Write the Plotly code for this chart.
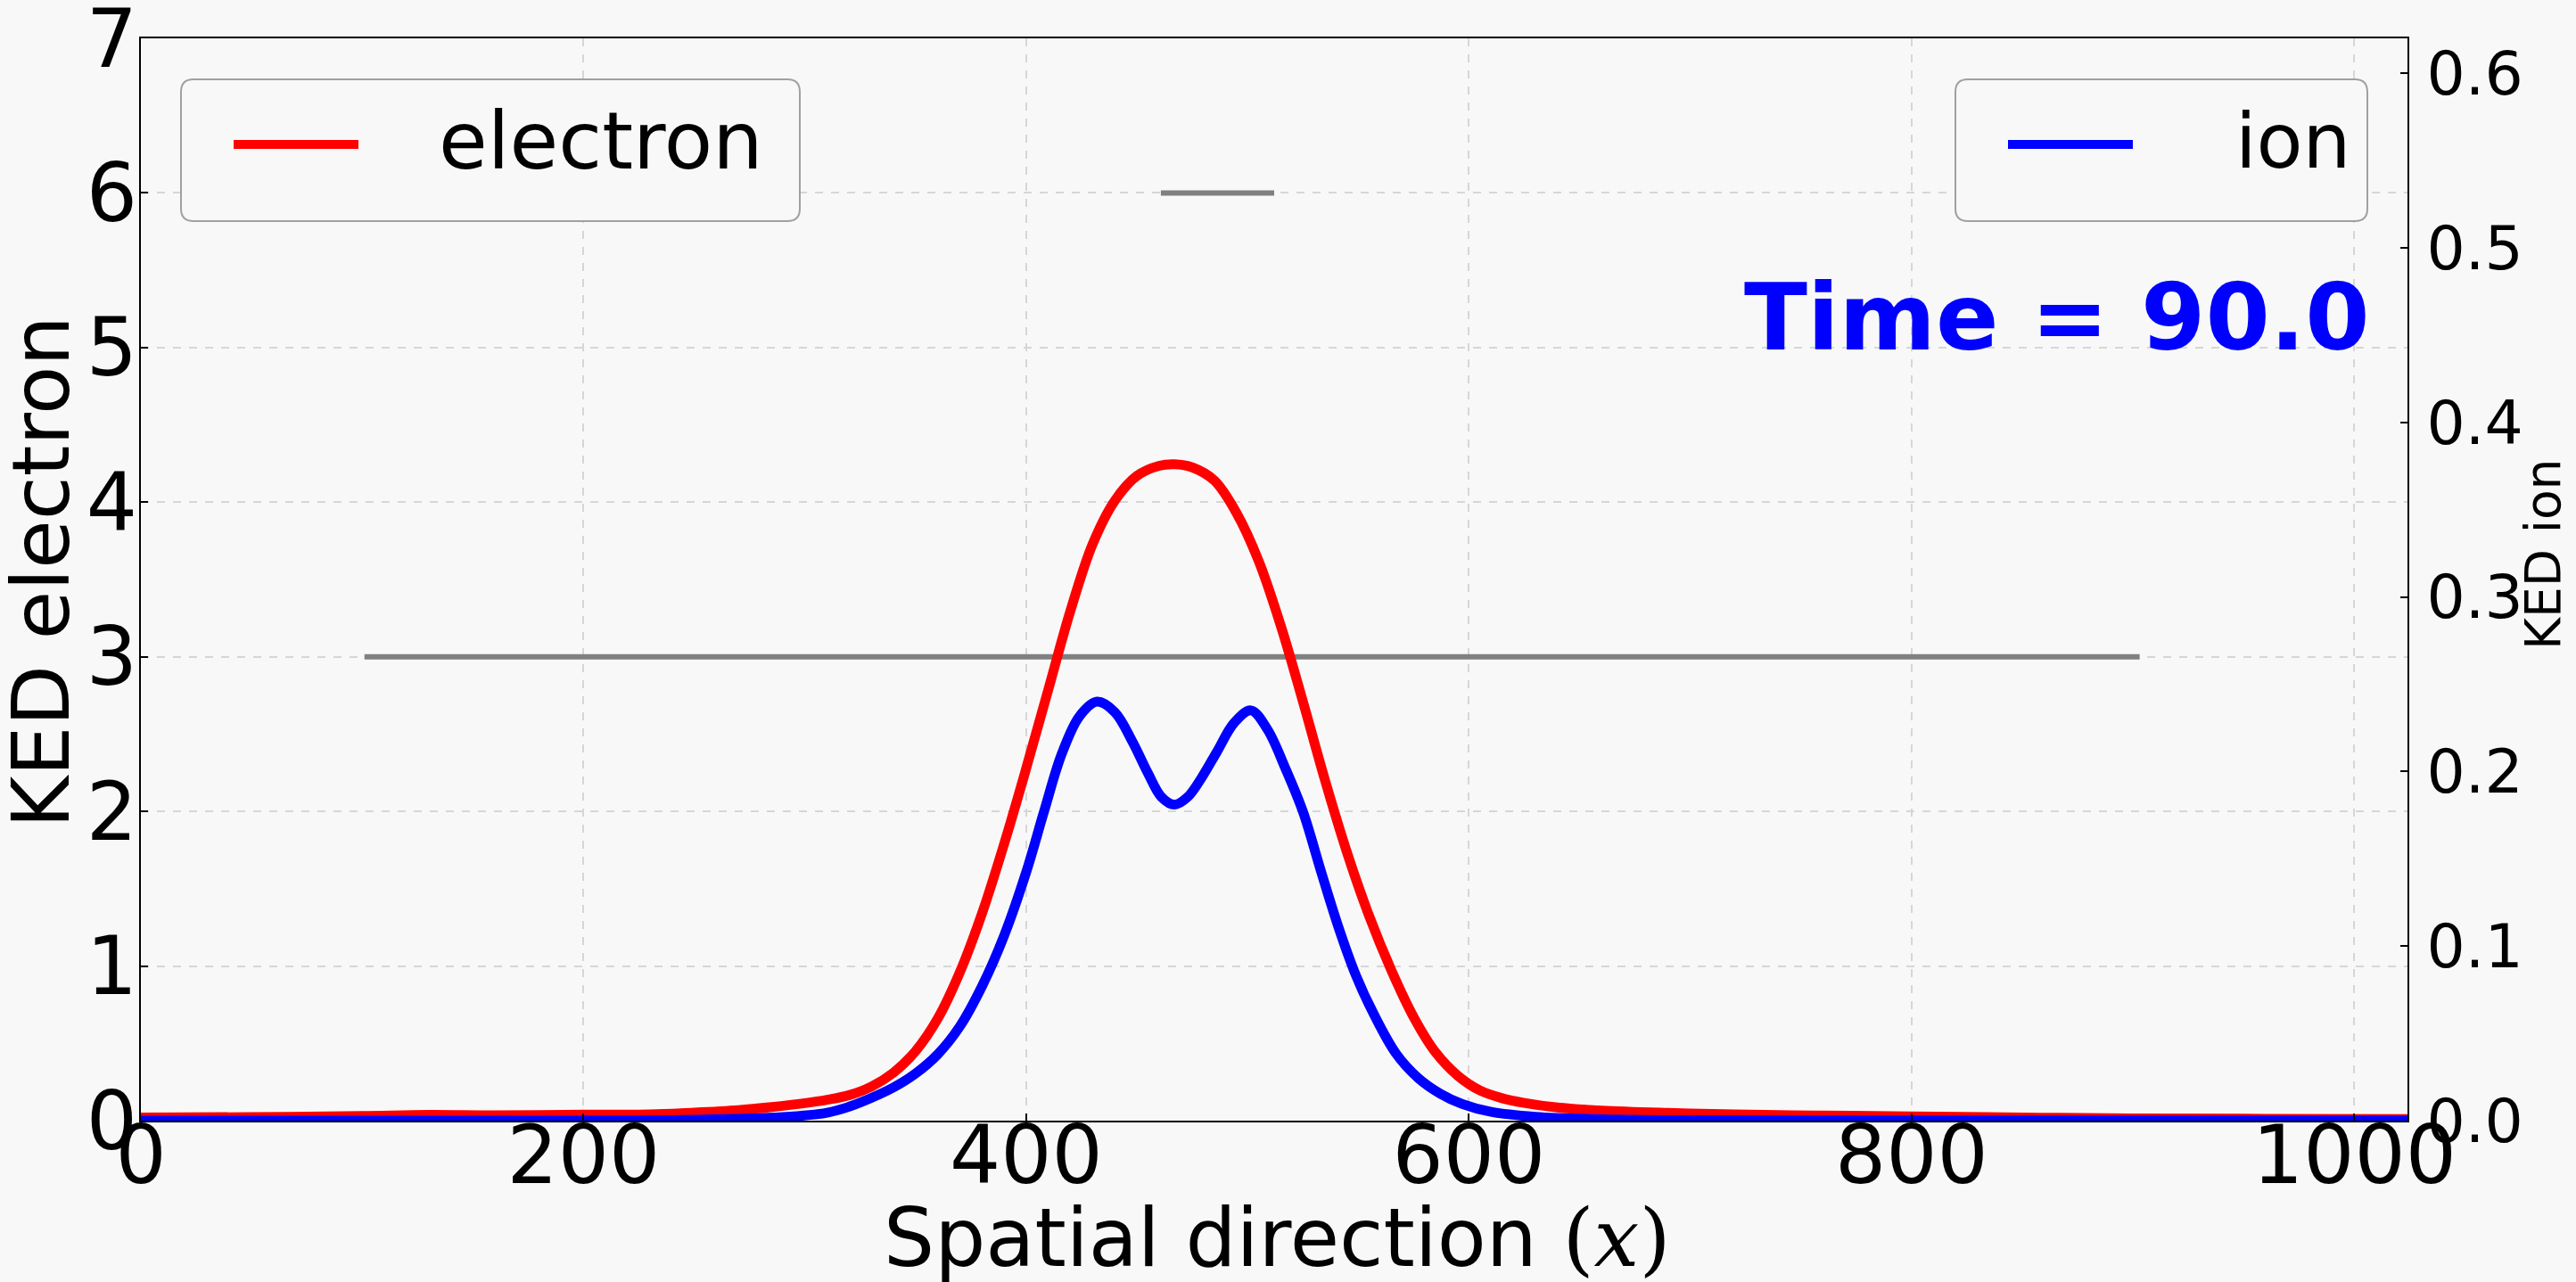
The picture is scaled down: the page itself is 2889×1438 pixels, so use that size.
import plotly.graph_objects as go

# ---------------- data ----------------
x_electron = [0, 50, 100, 130, 160, 200, 230, 250, 270, 285, 300, 310, 320, 330, 340,
              350, 360, 370, 380, 390, 400, 410, 420, 430, 440, 450, 460, 467, 475, 485,
              495, 505, 515, 525, 535, 545, 555, 565, 575, 585, 595, 605, 615, 625, 640,
              660, 690, 720, 760, 800, 850, 900, 960, 1024]
ke_electron = [0.02, 0.023, 0.03, 0.037, 0.034, 0.039, 0.041, 0.052, 0.068, 0.088, 0.113,
               0.135, 0.165, 0.22, 0.31, 0.45, 0.66, 0.96, 1.34, 1.79, 2.28, 2.79, 3.30,
               3.73, 4.01, 4.17, 4.235, 4.245, 4.225, 4.14, 3.93, 3.62, 3.20, 2.71, 2.20,
               1.73, 1.32, 0.97, 0.67, 0.44, 0.29, 0.195, 0.145, 0.115, 0.085, 0.065, 0.05,
               0.04, 0.033, 0.028, 0.02, 0.015, 0.012, 0.01]

x_ion = [0, 150, 250, 290, 310, 320, 330, 340, 350, 360, 370, 380, 390, 400, 408, 416,
         424, 432, 440, 448, 455, 461, 467, 473, 479, 486, 494, 501.5, 509, 517, 525, 533,
         541, 549, 557, 567, 577, 587, 597, 610, 630, 660, 720, 1024]
ke_ion = [0.0, 0.0, 0.0005, 0.002, 0.0045, 0.008, 0.013, 0.019, 0.027, 0.038, 0.054,
          0.077, 0.106, 0.1425, 0.177, 0.21, 0.2316, 0.240, 0.234, 0.217, 0.199, 0.1855,
          0.181, 0.1855, 0.196, 0.211, 0.228, 0.235, 0.224, 0.202, 0.177, 0.1435, 0.111,
          0.083, 0.061, 0.0385, 0.0245, 0.0155, 0.0095, 0.005, 0.0022, 0.0008, 0.0002, 0.0]

# gray reference segments (left axis units)
ref_long_x = [101, 903]
ref_long_y = [3, 3]
ref_short_x = [460.8, 512]
ref_short_y = [6, 6]

x_ticks = [0, 200, 400, 600, 800, 1000]
y1_ticks = [0, 1, 2, 3, 4, 5, 6, 7]
y2_ticks = [0.0, 0.1, 0.2, 0.3, 0.4, 0.5, 0.6]
y2_ticktext = ["0.0", "0.1", "0.2", "0.3", "0.4", "0.5", "0.6"]

time_label = "Time = 90.0"
series_names = ["electron", "ion"]
x_title = 'Spatial direction <span style="font-family:DejaVu Serif">(<i>x</i>)</span>'
y1_title = "KED electron"
y2_title = "KED ion"

# ---------------- layout geometry ----------------
W, H = 2889, 1438
L, R, T, B = 158, 2700, 43, 1257   # plot area in pixels
BG = "#f8f8f8"
FONT = "DejaVu Sans"


def px(X):
    return (X - L) / (R - L)


def py(Y):
    return (B - Y) / (B - T)


def rounded_box(x0, y0, x1, y1, r=14):
    rx = r / (R - L)
    ry = r / (B - T)
    a, b, c, d = px(x0), px(x1), py(y1), py(y0)  # left, right, bottom, top
    return (f"M{a+rx},{d} L{b-rx},{d} Q{b},{d} {b},{d-ry} L{b},{c+ry} Q{b},{c} {b-rx},{c} "
            f"L{a+rx},{c} Q{a},{c} {a},{c+ry} L{a},{d-ry} Q{a},{d} {a+rx},{d} Z")


fig = go.Figure()

fig.add_trace(go.Scatter(x=ref_long_x, y=ref_long_y, mode="lines",
                         line=dict(color="#808080", width=6), showlegend=False,
                         hoverinfo="skip"))
fig.add_trace(go.Scatter(x=ref_short_x, y=ref_short_y, mode="lines",
                         line=dict(color="#808080", width=6), showlegend=False,
                         hoverinfo="skip"))
fig.add_trace(go.Scatter(x=x_electron, y=ke_electron, mode="lines", name=series_names[0],
                         line=dict(color="#ff0000", width=11, shape="spline", smoothing=1.0),
                         showlegend=False))
fig.add_trace(go.Scatter(x=x_ion, y=ke_ion, mode="lines", name=series_names[1], yaxis="y2",
                         line=dict(color="#0000ff", width=11, shape="spline", smoothing=1.0),
                         showlegend=False))

shapes = [
    dict(type="path", xref="paper", yref="paper", path=rounded_box(203, 89, 897, 248),
         fillcolor=BG, line=dict(color="#a0a0a0", width=2), layer="above"),
    dict(type="path", xref="paper", yref="paper", path=rounded_box(2193, 89, 2655, 248),
         fillcolor=BG, line=dict(color="#a0a0a0", width=2), layer="above"),
    dict(type="line", xref="paper", yref="paper", x0=px(262), x1=px(402), y0=py(162), y1=py(162),
         line=dict(color="#ff0000", width=10), layer="above"),
    dict(type="line", xref="paper", yref="paper", x0=px(2252), x1=px(2392), y0=py(162), y1=py(162),
         line=dict(color="#0000ff", width=10), layer="above"),
]

annotations = [
    dict(text=series_names[0], xref="paper", yref="paper", x=px(490), y=py(158),
         xanchor="left", yanchor="middle", showarrow=False,
         font=dict(family=FONT, size=89, color="black")),
    dict(text=series_names[1], xref="paper", yref="paper", x=px(2505), y=py(158),
         xanchor="left", yanchor="middle", showarrow=False,
         font=dict(family=FONT, size=85, color="black")),
    dict(text=f"<b>{time_label}</b>", xref="paper", yref="paper", x=px(2660), y=py(356),
         xanchor="right", yanchor="middle", showarrow=False,
         font=dict(family=FONT, size=104, color="#0000ff")),
    # axis titles
    dict(text=y1_title, xref="paper", yref="paper", x=px(46), y=py(642), textangle=-90,
         xanchor="center", yanchor="middle", showarrow=False,
         font=dict(family=FONT, size=89, color="black")),
    dict(text=y2_title, xref="paper", yref="paper", x=px(2852), y=py(622), textangle=-90,
         xanchor="center", yanchor="middle", showarrow=False,
         font=dict(family=FONT, size=55, color="black")),
    dict(text=x_title, xref="paper", yref="paper", x=px(1432), y=py(1388),
         xanchor="center", yanchor="middle", showarrow=False,
         font=dict(family=FONT, size=90, color="black")),
]

axis_common = dict(showline=True, linecolor="black", linewidth=2, ticks="inside",
                   ticklen=8, tickwidth=2, tickcolor="black", zeroline=False,
                   ticklabeloverflow="allow", automargin=False)

fig.update_layout(
    width=W, height=H,
    margin=dict(l=L, r=W - R, t=T, b=H - B, pad=0, autoexpand=False),
    paper_bgcolor=BG, plot_bgcolor=BG,
    font=dict(family=FONT, color="black"),
    xaxis=dict(range=[0, 1024], tickvals=x_ticks, mirror=True,
               showgrid=True, gridcolor="#d6d6d6", gridwidth=2, griddash="dash",
               tickfont=dict(size=90), ticklabelstandoff=-40, **axis_common),
    yaxis=dict(range=[0, 7], tickvals=y1_ticks, mirror=True,
               showgrid=True, gridcolor="#d6d6d6", gridwidth=2, griddash="dash",
               tickfont=dict(size=90), ticklabelstandoff=-16, **axis_common),
    yaxis2=dict(range=[0, 0.62], tickvals=y2_ticks, ticktext=y2_ticktext,
                overlaying="y", side="right", showgrid=False,
                tickfont=dict(size=68), ticklabelstandoff=6, **axis_common),
    shapes=shapes,
    annotations=annotations,
    showlegend=False,
)

fig.write_html("out.html")
